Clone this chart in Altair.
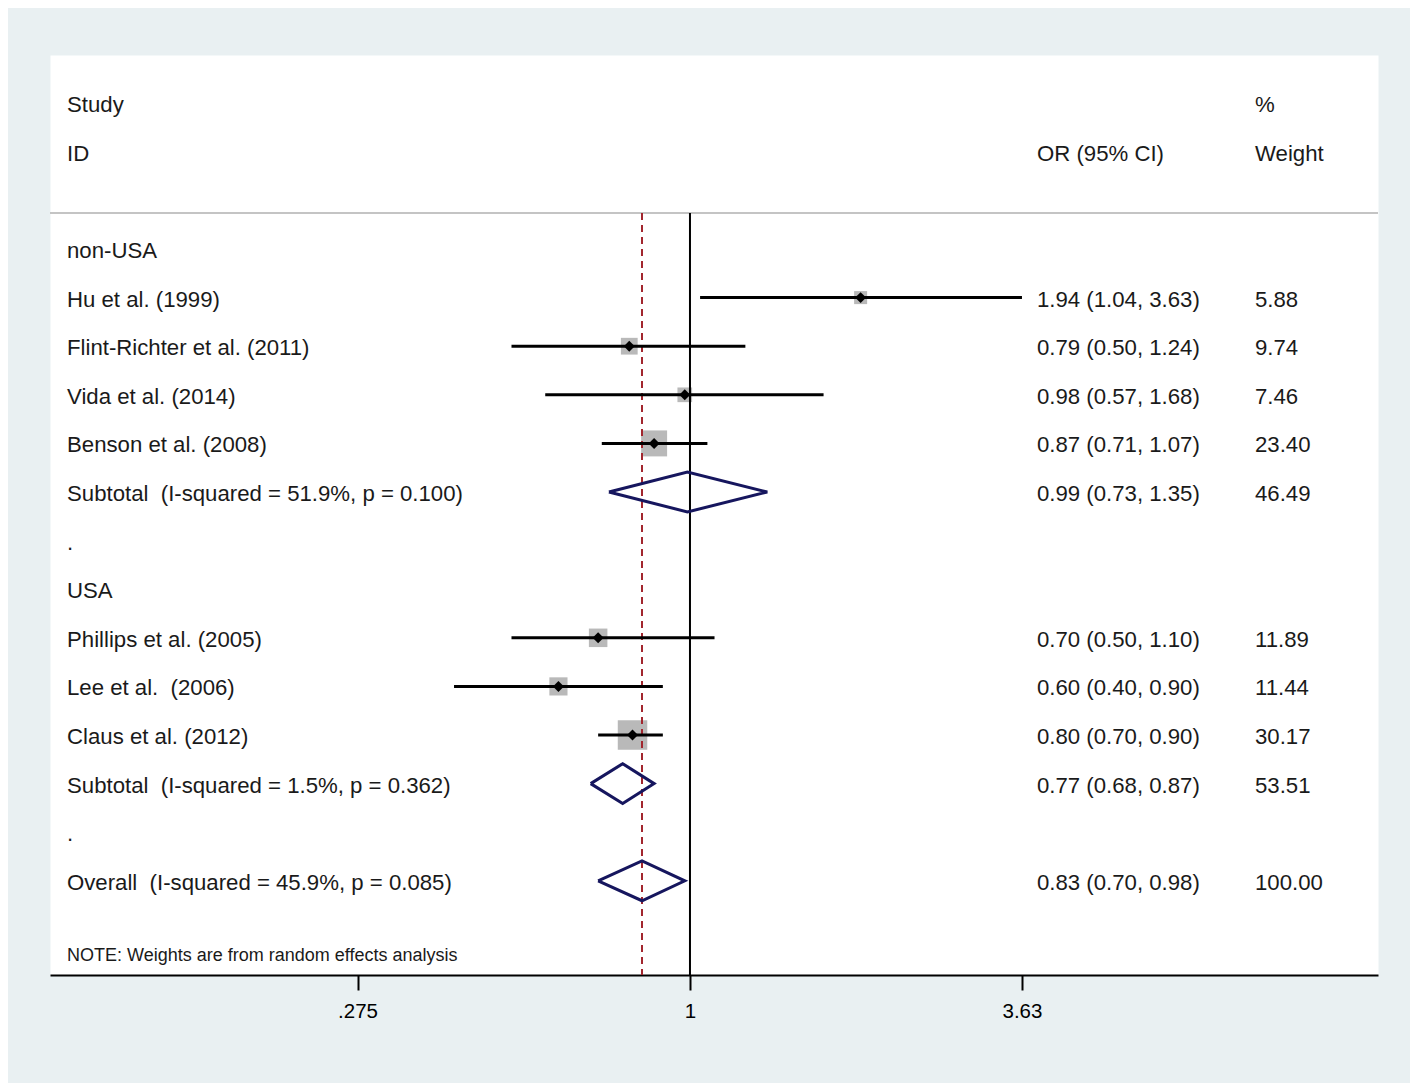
import altair as alt
import pandas as pd

# ---------------- data ----------------
study_names = ["Hu et al. (1999)", "Flint-Richter et al. (2011)", "Vida et al. (2014)",
               "Benson et al. (2008)", "Phillips et al. (2005)", "Lee et al.\u00a0 (2006)",
               "Claus et al. (2012)"]
study_rows = [1, 2, 3, 4, 8, 9, 10]
study_or = [1.94, 0.79, 0.98, 0.87, 0.70, 0.60, 0.80]
study_lo = [1.04, 0.50, 0.57, 0.71, 0.50, 0.40, 0.70]
study_hi = [3.63, 1.24, 1.68, 1.07, 1.10, 0.90, 0.90]
study_w = [5.88, 9.74, 7.46, 23.40, 11.89, 11.44, 30.17]

pool_names = ["Subtotal\u00a0 (I-squared = 51.9%, p = 0.100)",
              "Subtotal\u00a0 (I-squared = 1.5%, p = 0.362)",
              "Overall\u00a0 (I-squared = 45.9%, p = 0.085)"]
pool_rows = [5, 11, 13]
pool_or = [0.99, 0.77, 0.83]
pool_lo = [0.73, 0.68, 0.70]
pool_hi = [1.35, 0.87, 0.98]
pool_w = [46.49, 53.51, 100.00]

group_names = ["non-USA", "USA", ".", "."]
group_rows = [0, 7, 6, 12]

tick_values = [0.275, 1, 3.63]
tick_labels = [".275", "1", "3.63"]

overall_or = 0.83
null_or = 1.0

# ---------------- layout ----------------
W, H = 1328, 920
ROW_MIN, ROW_MAX = -3.992, 14.938
X_MIN, X_MAX = 0.0833, 14.467
SEP_ROW = -0.74
DIA_H = 0.41
FONT = "Liberation Sans"
TXT = "#1a1a1a"

xscale = alt.Scale(type="log", domain=[X_MIN, X_MAX], nice=False)
yscale = alt.Scale(domain=[ROW_MIN, ROW_MAX], reverse=True, nice=False, zero=False)

label_expr = ""
for v, l in zip(tick_values, tick_labels):
    label_expr += f"abs(datum.value - {v}) < 1e-6 ? '{l}' : "
label_expr += "''"

xaxis = alt.Axis(values=tick_values, labelExpr=label_expr, grid=False, domainColor="black",
                 domainWidth=2, tickColor="black", tickWidth=2, tickSize=15,
                 labelFontSize=20.5, labelFont=FONT, labelColor="black", labelPadding=11,
                 labelFlush=False, labelOverlap=False)


def X(field, **kw):
    return alt.X(field, type="quantitative", scale=xscale, axis=xaxis, title=None, **kw)


def Y(field):
    return alt.Y(field, type="quantitative", scale=yscale, axis=None)


studies = pd.DataFrame({"name": study_names, "row": study_rows, "or": study_or,
                        "lo": study_lo, "hi": study_hi, "w": study_w})
pooled = pd.DataFrame({"name": pool_names, "row": pool_rows, "or": pool_or,
                       "lo": pool_lo, "hi": pool_hi, "w": pool_w})

# diamond polygons built from pooled estimates
dia_rows = []
for i, r in pooled.iterrows():
    pts = [(r["lo"], r["row"]), (r["or"], r["row"] - DIA_H), (r["hi"], r["row"]),
           (r["or"], r["row"] + DIA_H), (r["lo"], r["row"])]
    for k, (xv, yv) in enumerate(pts):
        dia_rows.append({"id": i, "k": k, "x": xv, "y": yv})
diamonds = pd.DataFrame(dia_rows)

refs = pd.DataFrame({"x": [null_or], "y": [SEP_ROW]})
dashed = pd.DataFrame({"x": [overall_or], "y": [SEP_ROW]})
sep = pd.DataFrame({"y": [SEP_ROW]})

# text tables
left_text = pd.DataFrame({
    "text": ["Study", "ID"] + study_names + pool_names + group_names,
    "row": [-3, -2] + study_rows + pool_rows + group_rows,
})
all_or = study_or + pool_or
all_lo = study_lo + pool_lo
all_hi = study_hi + pool_hi
or_text = pd.DataFrame({
    "text": ["OR (95% CI)"] + [f"{o:.2f} ({l:.2f}, {h:.2f})" for o, l, h in zip(all_or, all_lo, all_hi)],
    "row": [-2] + study_rows + pool_rows,
})
w_text = pd.DataFrame({
    "text": ["%", "Weight"] + [f"{w:.2f}" for w in study_w + pool_w],
    "row": [-3, -2] + study_rows + pool_rows,
})
note = pd.DataFrame({"text": ["NOTE: Weights are from random effects analysis"], "row": [14.5]})

# ---------------- layers ----------------
sep_layer = alt.Chart(sep).mark_rule(color="#c4c4c4", strokeWidth=2).encode(
    y=Y("y"), x=alt.value(0), x2=alt.value(W))

squares = alt.Chart(studies).mark_square(color="#b9b9b9", opacity=1).encode(
    x=X("or"), y=Y("row"),
    size=alt.Size("w", type="quantitative",
                  scale=alt.Scale(domain=[0, 30.17], range=[0, 870], zero=True), legend=None))

null_line = alt.Chart(refs).mark_rule(color="black", strokeWidth=2).encode(
    x=X("x"), y=Y("y"), y2=alt.value(H))

dash_line = alt.Chart(dashed).mark_rule(color="#a2262e", strokeWidth=2, strokeDash=[7, 5]).encode(
    x=X("x"), y=Y("y"), y2=alt.value(H))

ci = alt.Chart(studies).mark_rule(color="black", strokeWidth=3).encode(
    x=X("lo"), x2="hi", y=Y("row"))

markers = alt.Chart(studies).mark_point(shape="diamond", filled=True, color="black",
                                        size=120, opacity=1).encode(x=X("or"), y=Y("row"))

dia = alt.Chart(diamonds).mark_line(color="#16165e", strokeWidth=3, strokeJoin="miter").encode(
    x=X("x"), y=Y("y"), detail="id:N", order="k:Q")


def text_layer(df, px, size=22.2):
    return alt.Chart(df).mark_text(align="left", baseline="middle", font=FONT, fontSize=size,
                                   color=TXT, dy=2).encode(x=alt.value(px), y=Y("row"), text="text:N")


chart = alt.layer(
    sep_layer, squares, null_line, dash_line, ci, markers, dia,
    text_layer(left_text, 17), text_layer(or_text, 987), text_layer(w_text, 1205),
    text_layer(note, 17, 18),
).properties(
    width=W, height=H, background="#e9f0f2",
    padding={"left": 42, "top": 47, "right": 32, "bottom": 108},
    autosize=alt.AutoSizeParams(type="none"),
).configure_view(fill="white", stroke="transparent")

chart.save("out.html", embed_options={"renderer": "svg", "actions": False})
